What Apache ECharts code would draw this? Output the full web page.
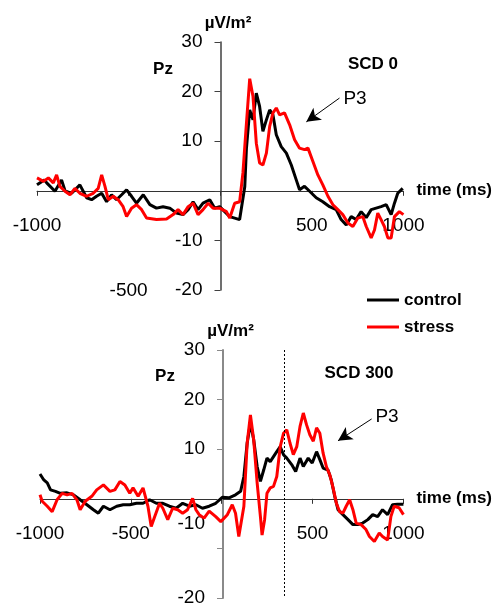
<!DOCTYPE html>
<html>
<head>
<meta charset="utf-8">
<script src="https://cdn.jsdelivr.net/npm/echarts@6/dist/echarts.min.js"></script>
<style>
  html, body { margin: 0; padding: 0; background: #fff; }
  #chart { width: 493px; height: 609px; }
</style>
</head>
<body>
<div id="chart"></div>
<script>
// SCD 0 panel (top)
const topControlT = [-1000, -960, -947, -902, -866, -847, -811, -766, -729, -702, -675, -647, -620, -593, -566, -538, -511, -484, -457, -420, -384, -348, -312, -275, -239, -203, -175, -148, -121, -94, -57, -30, -3, 52, 106, 134, 143, 161, 179, 197, 215, 233, 252, 270, 288, 306, 333, 361, 388, 415, 433, 460, 488, 524, 560, 597, 633, 660, 688, 715, 742, 769, 797, 824, 851, 878, 906, 933, 951, 969, 996];
const topControl = [1.2, 2.2, 1.6, -0.1, 2.2, 0, -0.5, 1.2, -1.4, -1.8, -1.1, -0.5, -2.2, -0.8, -1.8, -0.8, 0.2, -1.1, -2.5, -0.8, -2.8, -3.5, -3.2, -3.5, -4.5, -4.8, -3.8, -2.2, -3.8, -2.5, -1.8, -3.5, -3.2, -5.2, -5.8, 0.8, 8.5, 16.3, 14.3, 19.7, 17, 12, 14.3, 16.3, 15.3, 11.3, 8.9, 7.6, 5.2, 2.2, 0.2, 0.9, -0.1, -1.4, -2.2, -3.2, -3.8, -5.8, -6.9, -5.2, -5.8, -4.2, -5.4, -3.8, -3.5, -3.2, -2.8, -4.8, -2.5, -0.5, 0.5];

const topStressT = [-1000, -965, -938, -911, -893, -875, -847, -820, -793, -766, -729, -693, -666, -647, -629, -611, -584, -557, -530, -511, -484, -457, -429, -402, -348, -293, -257, -230, -203, -175, -148, -121, -94, -66, -39, -3, 34, 52, 79, 106, 124, 140, 161, 179, 197, 215, 233, 252, 270, 288, 306, 324, 351, 379, 406, 433, 460, 479, 506, 533, 560, 588, 615, 642, 669, 697, 724, 751, 778, 797, 824, 842, 860, 878, 896, 915, 933, 951, 978, 1000];
const topStress = [2.6, 1.9, 2.6, 1.6, 3.2, 0.9, -0.1, -0.8, 0.5, -0.5, -1.1, -0.5, 0.5, 3.2, 0.9, -1.8, -1.1, -1.8, -3.2, -5.2, -3.5, -2.8, -3.8, -5.5, -5.8, -5.7, -4.8, -3.8, -4.8, -3.2, -2.5, -4.8, -3.8, -2.5, -3.5, -3.5, -4.2, -5.5, -2.5, -2.2, 3.6, 12, 22.6, 19, 9.6, 5.6, 5.2, 7.6, 13, 15.7, 16.7, 15.3, 15.7, 13.3, 10.3, 8.6, 8.3, 8.6, 5.9, 3.2, 1.2, -1.1, -2.8, -3.8, -4.8, -6.5, -7.2, -5.5, -5.2, -7.2, -9.5, -7.9, -4.5, -5.8, -7.2, -9.5, -9.5, -5.2, -4.2, -4.8];

// SCD 300 panel (bottom)
const botControlT = [-1000, -979, -960, -942, -915, -888, -851, -815, -779, -742, -706, -679, -651, -615, -578, -542, -506, -469, -433, -397, -360, -324, -288, -251, -215, -178, -142, -106, -69, -33, 3, 40, 76, 104, 122, 140, 158, 176, 195, 213, 231, 249, 267, 285, 303, 322, 340, 358, 385, 407, 431, 449, 476, 498, 522, 540, 558, 585, 603, 622, 640, 667, 695, 722, 749, 776, 804, 831, 858, 885, 913, 940, 967, 1000];
const botControl = [5.0, 3.8, 3.2, 1.8, 1.5, 1.1, 1.2, 0.8, -0.2, -1.2, -2.2, -2.9, -1.5, -2.2, -1.5, -1.2, -1.2, -0.9, -0.9, -0.2, -0.9, -0.9, -1.5, -1.9, -0.9, -1.5, -1.2, -1.9, -1.5, -0.9, 0.3, 0.2, 0.8, 1.5, 4.5, 11.2, 15.3, 11.9, 6.5, 3.5, 5.8, 8.2, 7.5, 8.5, 9.5, 10.5, 8.9, 8.2, 6.9, 5.5, 8.2, 6.5, 8.2, 7.2, 9.5, 7.9, 6.2, 5.8, 3.8, 0.5, -2.2, -3.2, -4.2, -5.2, -5.2, -4.9, -4.2, -3.2, -3.6, -2.2, -3.2, -1.2, -1.1, -1.1];

const botStressT = [-1000, -988, -960, -933, -906, -878, -851, -824, -797, -779, -751, -715, -688, -651, -615, -588, -560, -533, -506, -488, -460, -433, -406, -388, -369, -342, -324, -297, -270, -242, -215, -188, -160, -142, -124, -97, -69, -33, -5, 31, 58, 76, 94, 104, 122, 140, 158, 176, 195, 213, 222, 236, 249, 267, 285, 303, 322, 340, 358, 376, 394, 413, 431, 449, 467, 485, 504, 522, 540, 558, 576, 595, 613, 631, 649, 667, 685, 704, 722, 740, 767, 794, 813, 840, 867, 885, 913, 931, 949, 976, 1000];
const botStress = [0.8, -0.5, -1.5, -2.6, -0.2, 1.1, 0.8, 1.1, -0.2, -2.2, -0.5, 0.5, 1.8, 2.8, 1.5, 1.8, 3.5, 2.8, 1.1, 2.2, 0.5, 2.2, -1.5, -5.6, -3.6, -0.9, -1.9, -4.2, -1.9, -2.2, -2.9, -2.2, 0.1, -2.2, -3.2, -3.9, -2.5, -3.6, -4.6, -3.2, -1.2, -2.9, -7.6, -7.9, -1.5, 11.2, 16.9, 11.9, 3.2, -3.6, -7.3, -4.2, 1.1, 2.2, 2.5, 4.5, 10.5, 13.2, 13.9, 11.2, 8.9, 10.5, 14.6, 17.3, 14.9, 12.9, 11.6, 14.3, 13.2, 9.2, 6.5, 4.8, 2.2, -0.9, -2.6, -2.9, -1.5, -0.2, -2.2, -4.9, -5.2, -6.2, -7.6, -8.6, -6.9, -7.6, -8.3, -3.6, -1.5, -1.8, -3.2];

const seriesNames = ['control', 'stress'];
const panelTitles = ['SCD 0', 'SCD 300'];
const scdLineTime = 345;

const FONT = 'Liberation Sans, Arial, sans-serif';
const pairs = (ts, vs) => ts.map((t, i) => [t, vs[i]]);

const grids = [
    { left: 37, top: 42, width: 367, height: 248 },
    { left: 40, top: 350, width: 366, height: 248 }
];
const yMin = -20, yMax = 30;

const chart = echarts.init(document.getElementById('chart'));

// axes cross at (0,0): shift them into the middle of the grid with a negative offset
function xAxisFor(gridIndex, shiftMinus500) {
    const g = grids[gridIndex];
    return {
        type: 'value', gridIndex: gridIndex, position: 'bottom',
        offset: -g.height * (0 - yMin) / (yMax - yMin),
        min: -1000, max: 1000, interval: 500,
        name: 'time (ms)', nameLocation: 'end', nameGap: 13,
        nameTextStyle: { fontFamily: FONT, fontSize: 17, fontWeight: 'bold', color: '#000' },
        axisLine: { onZero: false, lineStyle: { color: '#333', width: 1 } },
        axisTick: { show: true, length: 5, lineStyle: { color: '#333' } },
        splitLine: { show: false },
        axisLabel: {
            fontFamily: FONT, fontSize: 19, color: '#000', margin: 24, lineHeight: 21,
            showMinLabel: true, showMaxLabel: true,
            formatter: v => v === 0 ? '' : (shiftMinus500 && v === -500 ? '{down|-500}' : String(v)),
            rich: { down: { fontFamily: FONT, fontSize: 19, color: '#000', padding: [130, 0, 0, 0] } }
        }
    };
}

function yAxisFor(gridIndex, lineColor, lineWidth, shiftMinus10) {
    const g = grids[gridIndex];
    return {
        type: 'value', gridIndex: gridIndex, position: 'left',
        offset: -g.width / 2,
        min: yMin, max: yMax, interval: 10,
        name: 'µV/m²', nameLocation: 'end', nameGap: 10,
        nameTextStyle: { fontFamily: FONT, fontSize: 17, fontWeight: 'bold', color: '#000', padding: [0, 0, 0, 15] },
        axisLine: { onZero: false, lineStyle: { color: lineColor, width: lineWidth } },
        axisTick: { show: true, length: 6, lineStyle: { color: lineColor } },
        splitLine: { show: false },
        axisLabel: {
            fontFamily: FONT, fontSize: 19, color: '#000', margin: 18,
            showMinLabel: true, showMaxLabel: true, hideOverlap: false,
            formatter: v => v === 0 ? '' : (shiftMinus10 && v === -10 ? '{up|-10}' : String(v)),
            rich: { up: { fontFamily: FONT, fontSize: 19, color: '#000', padding: [0, 0, 50, 0] } }
        }
    };
}

function arrow(from, to) {
    return {
        silent: true, symbol: ['none', 'arrow'], symbolSize: [11, 14],
        label: { show: false },
        lineStyle: { color: '#000', width: 1, type: 'solid' },
        data: [[{ coord: from }, { coord: to }]]
    };
}

const lineSeries = (name, grid, data, color, markLine) => ({
    name: name, type: 'line', xAxisIndex: grid, yAxisIndex: grid,
    data: data, showSymbol: false, symbol: 'none',
    lineStyle: { color: color, width: 3 }, itemStyle: { color: color },
    markLine: markLine
});

const textEl = (text, x, y, bold, size) => ({
    type: 'text', x: x, y: y,
    style: { text: text, fill: '#000', font: (bold ? 'bold ' : '') + size + 'px ' + FONT, align: 'center', verticalAlign: 'middle' }
});

chart.setOption({
    animation: false,
    backgroundColor: '#fff',
    grid: grids,
    xAxis: [xAxisFor(0, true), xAxisFor(1, false)],
    yAxis: [yAxisFor(0, '#404040', 1.5, false), yAxisFor(1, '#8a8a8a', 2, true)],
    legend: {
        data: seriesNames, orient: 'vertical', left: 362, top: 285,
        icon: 'rect', itemWidth: 32, itemHeight: 3, itemGap: 7,
        selectedMode: false,
        textStyle: { fontFamily: FONT, fontSize: 17, fontWeight: 'bold', color: '#000', lineHeight: 20 }
    },
    series: [
        lineSeries(seriesNames[0], 0, pairs(topControlT, topControl), '#000', arrow([651, 18.7], [470, 13.9])),
        lineSeries(seriesNames[1], 0, pairs(topStressT, topStress), '#f00'),
        lineSeries(seriesNames[0], 1, pairs(botControlT, botControl), '#000', {
            silent: true, symbol: ['none', 'none'], label: { show: false },
            lineStyle: { color: '#000', width: 1, type: [2, 2] },
            data: [
                [{ coord: [scdLineTime, 30] }, { coord: [scdLineTime, -20] }]
            ]
        }),
        lineSeries(seriesNames[1], 1, pairs(botStressT, botStress), '#f00', arrow([825, 16.1], [640, 11.7]))
    ],
    graphic: [
        textEl('Pz', 163, 69, true, 17),
        textEl(panelTitles[0], 373, 64, true, 17),
        textEl('P3', 355, 99, false, 19),
        textEl('Pz', 165, 376, true, 17),
        textEl(panelTitles[1], 359, 373, true, 17),
        textEl('P3', 387, 417, false, 19)
    ]
});
</script>
</body>
</html>
